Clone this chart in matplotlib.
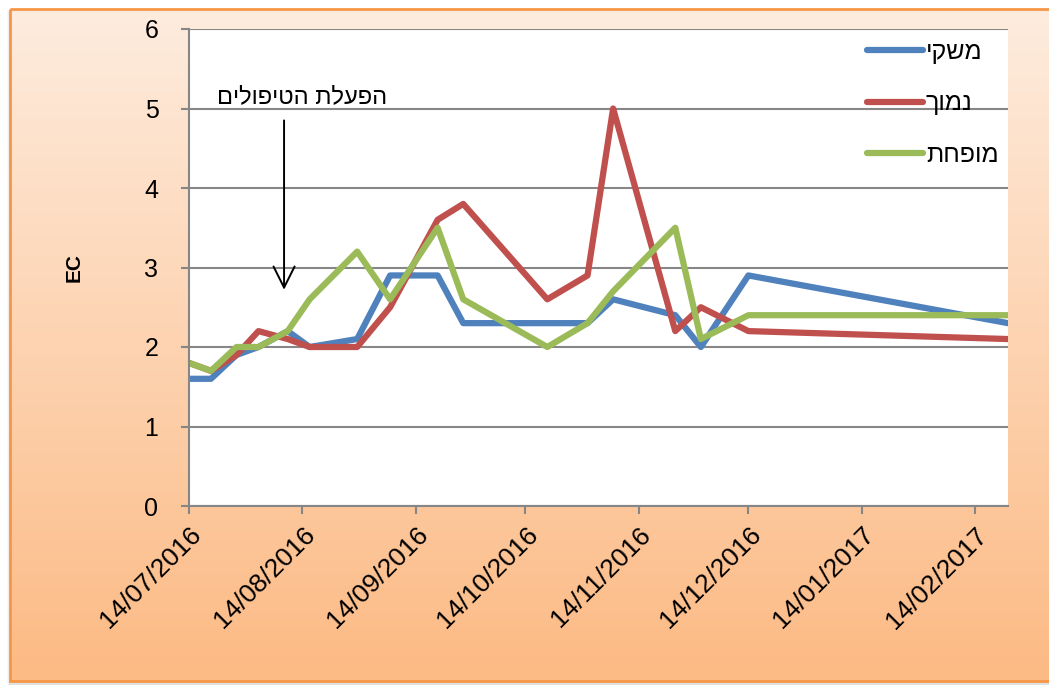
import numpy as np
import matplotlib
matplotlib.use("Agg")
import matplotlib.pyplot as plt
import matplotlib.dates as mdates
from matplotlib.patches import Rectangle
from datetime import datetime

plt.rcParams['font.family'] = ['Liberation Sans', 'DejaVu Sans']

# sampling dates and EC readings
dates = ["14/07/2016", "20/07/2016", "27/07/2016", "02/08/2016", "10/08/2016",
         "16/08/2016", "29/08/2016", "07/09/2016", "20/09/2016", "27/09/2016",
         "20/10/2016", "31/10/2016", "07/11/2016", "24/11/2016", "01/12/2016",
         "14/12/2016", "23/02/2017"]
mashki = [1.6, 1.6, 1.9, 2.0, 2.2, 2.0, 2.1, 2.9, 2.9, 2.3, 2.3, 2.3, 2.6, 2.4, 2.0, 2.9, 2.3]
namuch = [1.8, 1.7, 1.9, 2.2, 2.1, 2.0, 2.0, 2.5, 3.6, 3.8, 2.6, 2.9, 5.0, 2.2, 2.5, 2.2, 2.1]
mufchat = [1.8, 1.7, 2.0, 2.0, 2.2, 2.6, 3.2, 2.6, 3.5, 2.6, 2.0, 2.3, 2.7, 3.5, 2.1, 2.4, 2.4]
series_names = ["משקי", "נמוך", "מופחת"]
series_colors = ["#4F81BD", "#C0504D", "#9BBB59"]
tick_dates = ["14/07/2016", "14/08/2016", "14/09/2016", "14/10/2016",
              "14/11/2016", "14/12/2016", "14/01/2017", "14/02/2017"]
note_text = "הפעלת הטיפולים"


def heb(s):
    # matplotlib has no bidi support, lay RTL text out visually
    return s[::-1]


x = [datetime.strptime(d, "%d/%m/%Y") for d in dates]
ticks = [datetime.strptime(d, "%d/%m/%Y") for d in tick_dates]

W, H = 1049, 685
fig = plt.figure(figsize=(W / 100, H / 100), dpi=100)
fig.patch.set_facecolor("white")

# background panel with peach gradient
bg = fig.add_axes([0, 0, 1, 1])
bg.set_xlim(0, W)
bg.set_ylim(H, 0)
bg.axis("off")
top = np.array([254, 236, 222]) / 255
bot = np.array([252, 186, 132]) / 255
t = np.linspace(0, 1, 256)[:, None]
grad = (top[None, :] * (1 - t) + bot[None, :] * t)[:, None, :]
for i, a in enumerate([0.05, 0.08, 0.12]):
    bg.add_patch(Rectangle((10 - 3 + i, 9 + 1 + i), W + 20, 681 - 9 + 3 - i,
                           facecolor="#808080", edgecolor="none", alpha=a))
bg.imshow(grad, extent=(10, W + 10, 681, 9), aspect="auto", zorder=1)
bg.add_patch(Rectangle((10, 9), W + 10, 672, facecolor="none",
                       edgecolor="#F79646", lw=2, zorder=2))

ax = fig.add_axes([189 / W, 1 - 506 / H, (1008 - 189) / W, (506 - 29) / H])
ax.set_facecolor("white")

for vals, name, c in zip([mashki, namuch, mufchat], series_names, series_colors):
    ax.plot(x, vals, color=c, lw=4.5, label=heb(name), solid_capstyle="round")

ax.set_ylim(0, 6)
ax.set_yticks(range(0, 7))
ax.set_xlim(datetime(2016, 7, 14), datetime(2017, 2, 23))
ax.set_xticks(ticks)
ax.xaxis.set_major_formatter(mdates.DateFormatter("%d/%m/%Y"))
ax.grid(axis="y", color="#878787", lw=1.5)
ax.set_axisbelow(True)
for s in ["top", "right"]:
    ax.spines[s].set_visible(False)
for s in ["left", "bottom"]:
    ax.spines[s].set_color("#868686")
    ax.spines[s].set_linewidth(1.5)
ax.tick_params(axis="both", color="#868686", width=1.5, length=6, labelsize=18)
ax.tick_params(axis="x", labelsize=19, pad=6)
ax.tick_params(axis="y", pad=16)
plt.setp(ax.get_xticklabels(), rotation=45, ha="right", rotation_mode="anchor")

ax.set_ylabel("EC", fontsize=15, fontweight="bold", labelpad=44)

# treatment start marker
ax.annotate("", xy=(datetime(2016, 8, 9), 2.72), xytext=(datetime(2016, 8, 9), 4.85),
            arrowprops=dict(arrowstyle="->", color="black", lw=1.4,
                            mutation_scale=38, shrinkA=0, shrinkB=0))
ax.text(datetime(2016, 8, 14), 5.14, heb(note_text), fontsize=17,
        ha="center", va="center")

ax.legend(loc="upper left", bbox_to_anchor=(0.828, 0.977), frameon=False,
          fontsize=18, handlelength=2.25, handletextpad=0.1, labelspacing=1.1,
          borderpad=0, borderaxespad=0)

fig.savefig("out.png", dpi=100)
